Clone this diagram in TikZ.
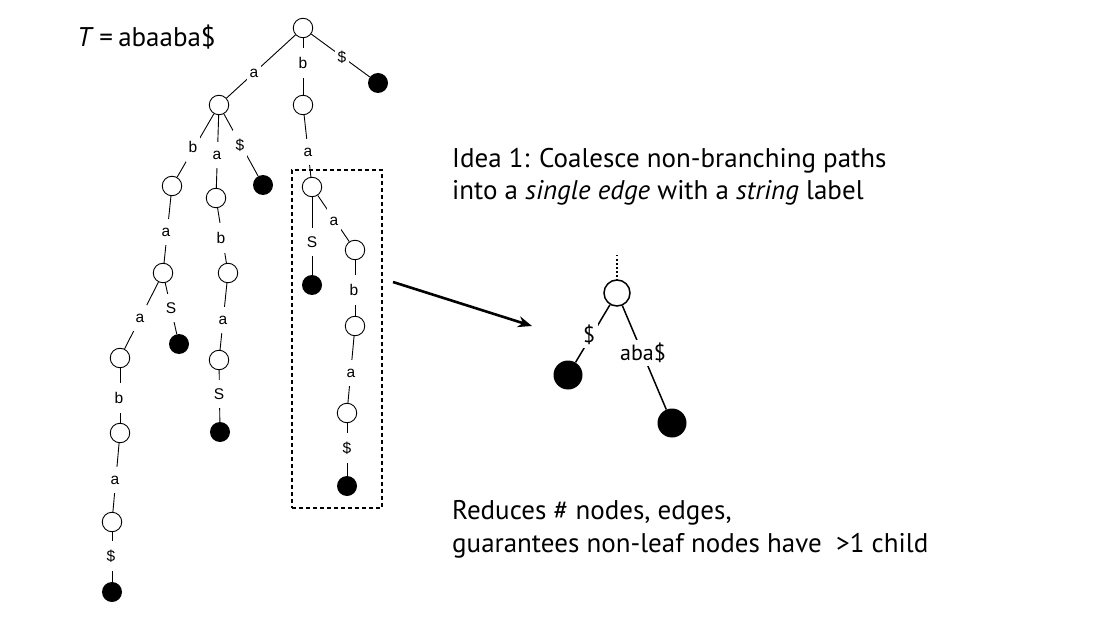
\documentclass[tikz,border=0pt]{standalone}
\usepackage{fontspec}
\setmainfont{PT Sans}
\newfontfamily\helv{Liberation Sans}
\usetikzlibrary{arrows.meta}
\begin{document}
\begin{tikzpicture}[x=1pt,y=-1pt,
  inode/.style={circle,draw,line width=0.9pt,minimum size=19.5pt,inner sep=0pt},
  leaf/.style={circle,fill=black,minimum size=20pt,inner sep=0pt},
  tedge/.style={line width=0.9pt},
  lbl/.style={fill=white,inner xsep=3pt,inner ysep=9pt,font=\helv\fontsize{15.5}{15.5}\selectfont},
  bignode/.style={circle,draw,line width=1.5pt,minimum size=26pt,inner sep=0pt},
  bigleaf/.style={circle,fill=black,minimum size=29pt,inner sep=0pt},
  bedge/.style={line width=1.5pt},
  blbl/.style={fill=white,inner sep=3pt,font=\fontsize{22}{22}\selectfont},
  txt/.style={anchor=base west,inner sep=0pt,font=\fontsize{27}{27}\selectfont}]
\useasboundingbox (0,0) rectangle (1102,620);
% tree nodes
\node[inode] (r0) at (303,28) {};
\node[inode] (na) at (219,105) {};
\node[inode] (nb) at (303,105) {};
\node[leaf] (nd) at (378,83) {};
\node[inode] (nab) at (172,186) {};
\node[inode] (naa) at (216,198) {};
\node[leaf] (nad) at (263,185) {};
\node[inode] (nba) at (312,187) {};
\node[inode] (naba) at (163,273) {};
\node[inode] (nabaa) at (120,358) {};
\node[leaf] (nabad) at (179,344) {};
\node[inode] (nabaab) at (120,433) {};
\node[inode] (nabaaba) at (112,522) {};
\node[leaf] (nabaabad) at (112,592) {};
\node[inode] (naab) at (228,273) {};
\node[inode] (naaba) at (219,360) {};
\node[leaf] (naabad) at (220,432) {};
\node[leaf] (nbad) at (312,285) {};
\node[inode] (nbaa) at (355,250) {};
\node[inode] (nbaab) at (355,326) {};
\node[inode] (nbaaba) at (347,413) {};
\node[leaf] (nbaabad) at (347,486) {};
% tree edges
\draw[tedge] (r0) -- (na);
\draw[tedge] (r0) -- (nb);
\draw[tedge] (r0) -- (nd);
\draw[tedge] (na) -- (nab);
\draw[tedge] (na) -- (naa);
\draw[tedge] (na) -- (nad);
\draw[tedge] (nb) -- (nba);
\draw[tedge] (nab) -- (naba);
\draw[tedge] (naba) -- (nabaa);
\draw[tedge] (naba) -- (nabad);
\draw[tedge] (nabaa) -- (nabaab);
\draw[tedge] (nabaab) -- (nabaaba);
\draw[tedge] (nabaaba) -- (nabaabad);
\draw[tedge] (naa) -- (naab);
\draw[tedge] (naab) -- (naaba);
\draw[tedge] (naaba) -- (naabad);
\draw[tedge] (nba) -- (nbad);
\draw[tedge] (nba) -- (nbaa);
\draw[tedge] (nbaa) -- (nbaab);
\draw[tedge] (nbaab) -- (nbaaba);
\draw[tedge] (nbaaba) -- (nbaabad);
% edge labels
\node[lbl] (e1) at (254,73) {a};
\node[lbl] (e2) at (303,63) {b};
\node[lbl] (e3) at (342,57) {\$};
\node[lbl] (e4) at (193,147) {b};
\node[lbl] (e5) at (217,155) {a};
\node[lbl] (e6) at (240,145) {\$};
\node[lbl] (e7) at (308,152) {a};
\node[lbl] (e8) at (166,232) {a};
\node[lbl] (e9) at (140,318) {a};
\node[lbl] (e10) at (171,308) {S};
\node[lbl] (e11) at (119,398) {b};
\node[lbl] (e12) at (115,480) {a};
\node[lbl] (e13) at (111,556) {\$};
\node[lbl] (e14) at (221,238) {b};
\node[lbl] (e15) at (223,320) {a};
\node[lbl] (e16) at (219,394) {S};
\node[lbl] (e17) at (312,242) {S};
\node[lbl] (e18) at (334,221) {a};
\node[lbl] (e19) at (354,290) {b};
\node[lbl] (e20) at (351,373) {a};
\node[lbl] (e21) at (347,448) {\$};
% dashed box
\node[draw,dash pattern=on 4pt off 3pt,line width=1.6pt,minimum width=90pt,minimum height=338pt,inner sep=0pt] (box) at (337,339) {};
% arrow
\coordinate (as) at (393,282);
\coordinate (ae) at (532,326);
\draw[line width=2.6pt,-{Stealth[length=14pt,width=11pt]}] (as) -- (ae);
% right diagram
\node[bignode] (R) at (617,293) {};
\node[bigleaf] (L1) at (568,375) {};
\node[bigleaf] (L2) at (672,423) {};
\coordinate (Rt) at (617,255);
\draw[line width=1.4pt,dash pattern=on 1.5pt off 2.5pt] (Rt) -- (R);
\draw[bedge] (R) -- (L1);
\draw[bedge] (R) -- (L2);
\node[blbl] (s1) at (589,335) {\$};
\node[blbl] (s2) at (643,353) {aba\$};
% texts
\node[txt] (title) at (77,47) {\textit{T}\hspace{0.2em}=\hspace{0.2em}abaaba\$};
\node[txt] (idea1) at (452,168) {Idea 1: Coalesce non-branching paths};
\node[txt] (idea2) at (452,200) {into a \textit{single edge} with a \textit{string} label};
\node[txt] (red1) at (452,519) {Reduces \# nodes, edges,};
\node[txt] (red2) at (452,552) {guarantees non-leaf nodes have\ \ >1 child};
\end{tikzpicture}
\end{document}
